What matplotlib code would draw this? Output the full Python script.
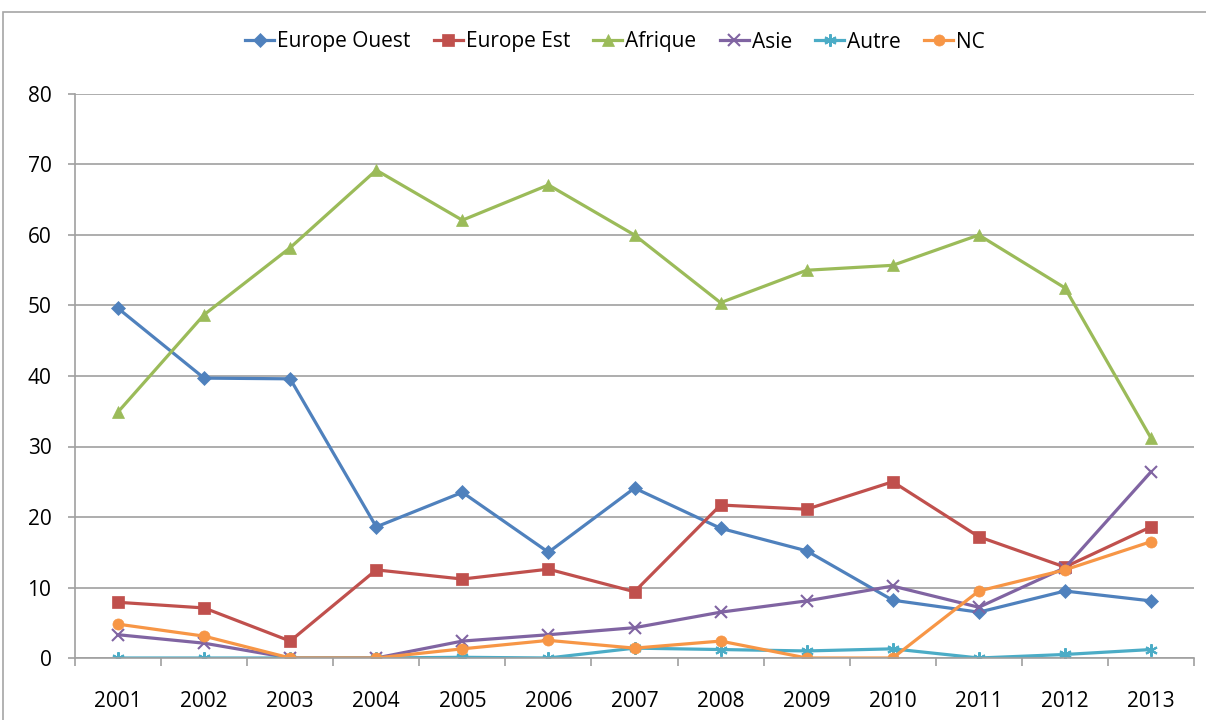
import matplotlib
matplotlib.use("Agg")
import matplotlib.pyplot as plt
from matplotlib.patches import Rectangle

years = ["2001", "2002", "2003", "2004", "2005", "2006", "2007",
         "2008", "2009", "2010", "2011", "2012", "2013"]

europe_ouest = [49.6, 39.7, 39.6, 18.6, 23.5, 15.0, 24.1, 18.4, 15.2, 8.2, 6.5, 9.5, 8.1]
europe_est = [7.9, 7.1, 2.4, 12.5, 11.2, 12.6, 9.4, 21.7, 21.1, 25.0, 17.2, 12.9, 18.6]
afrique = [34.9, 48.7, 58.2, 69.2, 62.1, 67.1, 60.0, 50.4, 55.0, 55.7, 60.0, 52.5, 31.2]
asie = [3.3, 2.1, 0.0, 0.0, 2.4, 3.3, 4.3, 6.5, 8.1, 10.2, 7.2, 12.8, 26.4]
autre = [0.0, 0.0, 0.0, 0.0, 0.1, 0.0, 1.4, 1.2, 1.0, 1.3, 0.0, 0.5, 1.2]
nc = [4.8, 3.1, 0.0, 0.0, 1.3, 2.5, 1.4, 2.4, 0.0, 0.0, 9.5, 12.5, 16.5]

series = [
    ("Europe Ouest", europe_ouest, "#4F81BD", "D", 7),
    ("Europe Est", europe_est, "#C0504D", "s", 8),
    ("Afrique", afrique, "#9BBB59", "^", 8),
    ("Asie", asie, "#8064A2", "x", 8),
    ("Autre", autre, "#4BACC6", (6, 2, 0), 9),
    ("NC", nc, "#F79646", "o", 8),
]

plt.rcParams["font.family"] = ["Open Sans", "DejaVu Sans"]

fig = plt.figure(figsize=(12.06, 7.2), dpi=100)
fig.patches.append(Rectangle((3 / 1206, -0.1), 1.2, 1 - 12 / 720 + 0.1,
                             transform=fig.transFigure, fill=False,
                             edgecolor="#a6a6a6", linewidth=1.2))

ax = fig.add_axes([75 / 1206, 1 - 658 / 720, (1194 - 75) / 1206, (658 - 94) / 720])
x = list(range(len(years)))
for name, vals, color, marker, ms in series:
    ax.plot(x, vals, color=color, marker=marker, markersize=ms, linewidth=2.3,
            markeredgewidth=1.5 if marker in ("x", (6, 2, 0)) else 0.5,
            markeredgecolor=color, label=name)

ax.set_ylim(0, 80)
ax.set_xlim(-0.5, len(years) - 0.5)
ax.set_yticks(range(0, 81, 10))
ax.set_xticks(x)
ax.set_xticklabels(years)
ax.set_xticks([i - 0.5 for i in range(len(years) + 1)], minor=True)
ax.tick_params(axis="x", which="major", length=0, labelsize=15, pad=24)
ax.tick_params(axis="x", which="minor", length=6, color="#a0a0a0", width=1.2)
ax.tick_params(axis="y", length=5, color="#a0a0a0", width=1.2, labelsize=15, pad=12)
ax.grid(axis="y", color="#a0a0a0", linewidth=1.2)
ax.set_axisbelow(True)
for side in ("top", "right"):
    ax.spines[side].set_visible(False)
for side in ("left", "bottom"):
    ax.spines[side].set_color("#a0a0a0")
    ax.spines[side].set_linewidth(1.2)

fig.legend(loc="center", bbox_to_anchor=(615 / 1206, 1 - 42 / 720), ncol=6,
           frameon=False, fontsize=15, handlelength=1.4, handletextpad=0.15,
           columnspacing=1.1, borderaxespad=0)

fig.savefig("out.png", dpi=100)
